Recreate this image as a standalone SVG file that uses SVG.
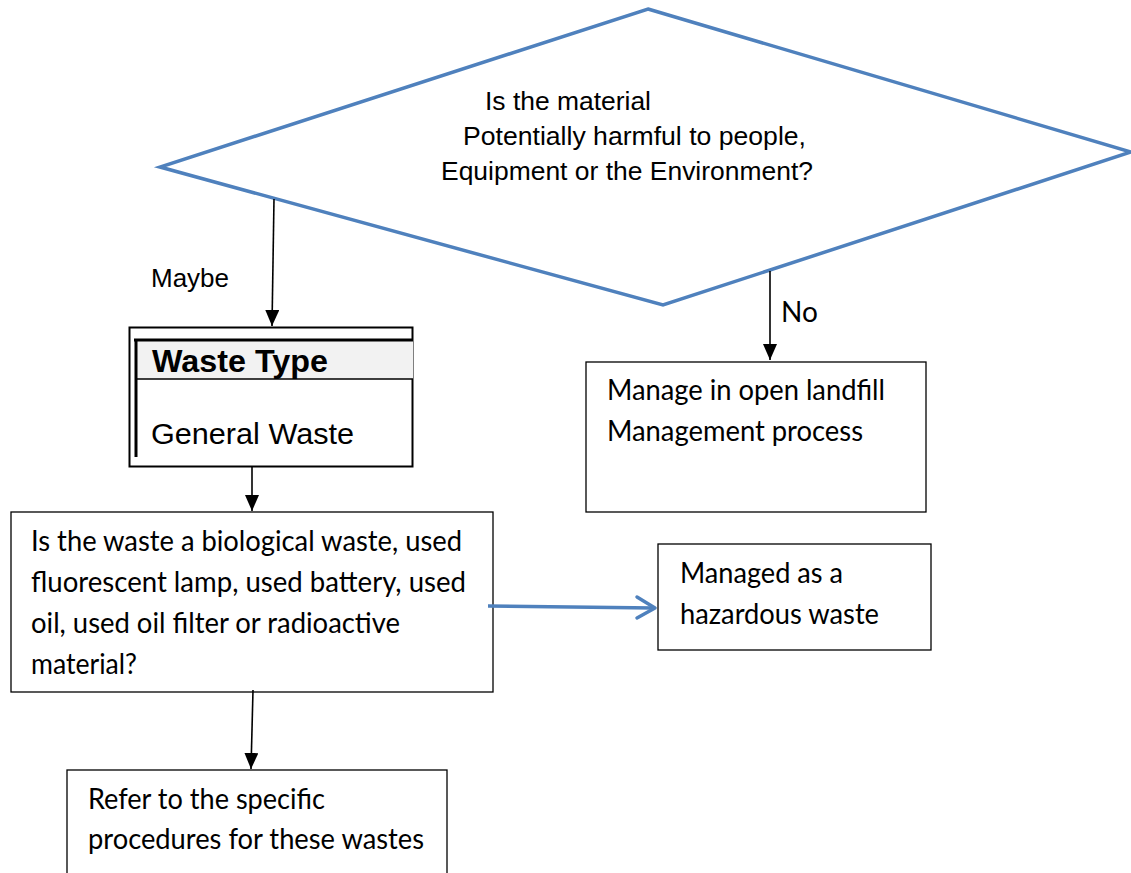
<svg xmlns="http://www.w3.org/2000/svg" width="1131" height="873" viewBox="0 0 1131 873">
<style>
.bg{fill:#ffffff}
.box{fill:#ffffff;stroke:#000000;stroke-width:1.3}
.ar{font-family:"Liberation Sans",Arial,sans-serif;fill:#000000}
.cb{font-family:Lato,"Open Sans",sans-serif;font-size:28px;fill:#000000}
.conn{stroke:#000000;stroke-width:1.6;fill:none}
.blue{stroke:#4f81bd;stroke-width:3.5;fill:none}
</style>
<defs>
<marker id="ah" viewBox="0 0 16 14" refX="16" refY="7" markerWidth="16" markerHeight="14" markerUnits="userSpaceOnUse" orient="auto">
<path d="M0,0 L16,7 L0,14 Z" fill="#000000"/>
</marker>
</defs>
<rect class="bg" x="0" y="0" width="1131" height="873"/>

<g id="decision">
<polygon points="648,9 1131,152 663,305 160,167" fill="#ffffff" stroke="#4f81bd" stroke-width="3.5" stroke-linejoin="miter"/>
<text class="ar" font-size="25" x="485" y="110" textLength="166" lengthAdjust="spacingAndGlyphs">Is the material</text>
<text class="ar" font-size="25" x="463" y="145" textLength="343" lengthAdjust="spacingAndGlyphs">Potentially harmful to people,</text>
<text class="ar" font-size="25" x="441" y="180" textLength="372" lengthAdjust="spacingAndGlyphs">Equipment or the Environment?</text>
</g>

<g id="waste-type">
<rect x="129.5" y="327.5" width="283" height="139" fill="#ffffff" stroke="#000000" stroke-width="2"/>
<rect x="137" y="341" width="276" height="38" fill="#f2f2f2"/>
<line x1="134" y1="340" x2="413" y2="340" stroke="#000000" stroke-width="3"/>
<line x1="136" y1="340" x2="136" y2="457" stroke="#000000" stroke-width="3"/>
<line x1="137" y1="379" x2="413" y2="379" stroke="#000000" stroke-width="1.5"/>
<text class="ar" font-size="31" font-weight="bold" x="152" y="372" textLength="176" lengthAdjust="spacingAndGlyphs">Waste Type</text>
<text class="ar" font-size="30" x="151" y="444" textLength="203" lengthAdjust="spacingAndGlyphs">General Waste</text>
</g>

<g id="landfill">
<rect class="box" x="586" y="362" width="340" height="150"/>
<text class="cb" x="607" y="400" textLength="278" lengthAdjust="spacingAndGlyphs">Manage in open landfill</text>
<text class="cb" x="607" y="441" textLength="256" lengthAdjust="spacingAndGlyphs">Management process</text>
</g>

<g id="question">
<rect class="box" x="11" y="512" width="482" height="180"/>
<text class="cb" x="31" y="551" textLength="431" lengthAdjust="spacingAndGlyphs">Is the waste a biological waste, used</text>
<text class="cb" x="31" y="592" textLength="435" lengthAdjust="spacingAndGlyphs">fluorescent lamp, used battery, used</text>
<text class="cb" x="31" y="633" textLength="369" lengthAdjust="spacingAndGlyphs">oil, used oil filter or radioactive</text>
<text class="cb" x="31" y="674" textLength="106" lengthAdjust="spacingAndGlyphs">material?</text>
</g>

<g id="hazardous">
<rect class="box" x="658" y="544" width="273" height="106"/>
<text class="cb" x="680" y="583" textLength="163" lengthAdjust="spacingAndGlyphs">Managed as a</text>
<text class="cb" x="680" y="624" textLength="199" lengthAdjust="spacingAndGlyphs">hazardous waste</text>
</g>

<g id="specific">
<rect class="box" x="67" y="770" width="380" height="120"/>
<text class="cb" x="88" y="809" textLength="237" lengthAdjust="spacingAndGlyphs">Refer to the specific</text>
<text class="cb" x="88" y="849" textLength="336" lengthAdjust="spacingAndGlyphs">procedures for these wastes</text>
</g>

<g id="connectors">
<line class="conn" x1="274" y1="199" x2="272" y2="326" marker-end="url(#ah)"/>
<text class="ar" font-size="26" x="151" y="287">Maybe</text>
<line class="conn" x1="770" y1="271" x2="770" y2="360" marker-end="url(#ah)"/>
<text class="cb" font-size="28" x="781" y="322">No</text>
<line class="conn" x1="252" y1="467" x2="252" y2="511" marker-end="url(#ah)"/>
<line class="conn" x1="253" y1="690" x2="251" y2="769" marker-end="url(#ah)"/>
<line class="blue" x1="488" y1="606" x2="654" y2="608"/>
<polyline class="blue" points="637,597 655,608 637,618" stroke-linecap="round" stroke-linejoin="round"/>
</g>
</svg>
